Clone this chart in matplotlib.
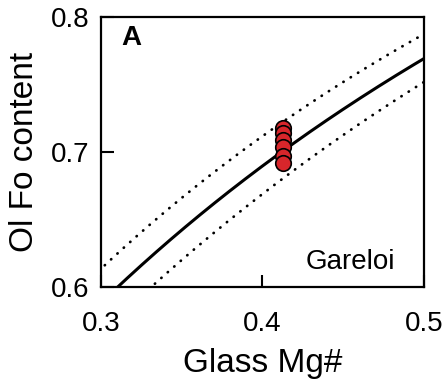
import numpy as np
import matplotlib
matplotlib.use("Agg")
import matplotlib.pyplot as plt

plt.rcParams["font.family"] = ["Liberation Sans", "DejaVu Sans"]

# Olivine-melt Fe-Mg exchange coefficients: central value and bounds
kd_central = 0.30
kd_bounds = [0.27, 0.33]

# Gareloi glass Mg# and olivine Fo
glass_mg = [0.413, 0.413, 0.413, 0.413, 0.413, 0.413]
ol_fo = [0.718, 0.714, 0.709, 0.704, 0.697, 0.692]

x_ticks = [0.3, 0.4, 0.5]
y_ticks = [0.6, 0.7, 0.8]


def equilibrium_fo(mg, kd):
    ratio = mg / (1.0 - mg) / kd
    return ratio / (1.0 + ratio)


fig = plt.figure(figsize=(4.48, 3.85), dpi=100)
ax = fig.add_axes([0.2254, 0.2545, 0.7210, 0.7013])

mg = np.linspace(0.25, 0.55, 300)
ax.plot(mg, equilibrium_fo(mg, kd_central), color="black", lw=2.2, zorder=2)
for kd in kd_bounds:
    ax.plot(mg, equilibrium_fo(mg, kd), color="black", lw=2.0,
            linestyle=(0, (0.1, 3.0)), dash_capstyle="round", zorder=2)

ax.scatter(glass_mg, ol_fo, s=125, facecolor="#d7262b", edgecolor="black",
           linewidth=1.2, zorder=3)

ax.set_xlim(0.3, 0.5)
ax.set_ylim(0.6, 0.8)
ax.set_xticks(x_ticks)
ax.set_yticks(y_ticks)
ax.set_xticklabels([f"{v:.1f}" for v in x_ticks])
ax.set_yticklabels([f"{v:.1f}" for v in y_ticks])
ax.tick_params(direction="in", length=9, width=1.5, labelsize=20,
               pad=8, colors="black")
ax.tick_params(axis="x", pad=17)
for sp in ax.spines.values():
    sp.set_linewidth(1.6)

ax.set_xlabel("Glass Mg#", fontsize=24, labelpad=8)
ax.set_ylabel("Ol Fo content", fontsize=24, labelpad=8)

ax.text(0.064, 0.97, "A", transform=ax.transAxes, fontsize=20,
        fontweight="bold", ha="left", va="top")
ax.text(0.91, 0.065, "Gareloi", transform=ax.transAxes, fontsize=20,
        ha="right", va="baseline")

fig.savefig("out.png", dpi=100)
